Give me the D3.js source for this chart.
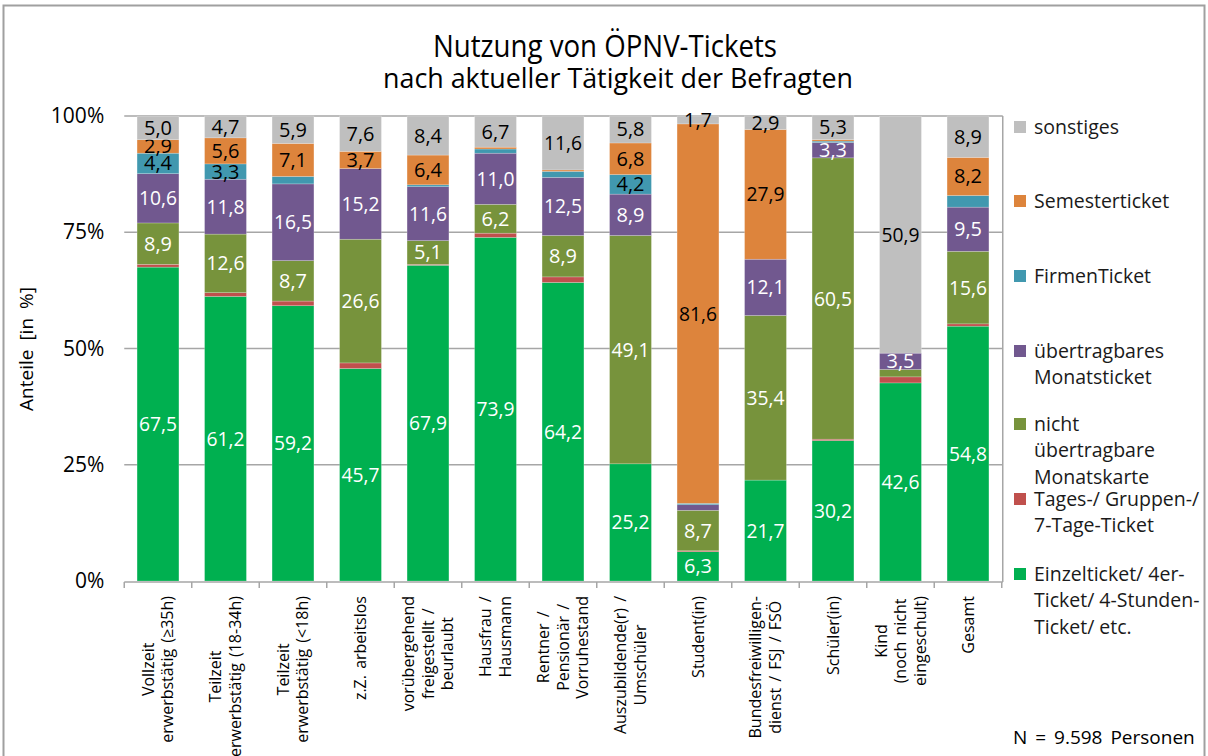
<!doctype html>
<html lang="de">
<head>
<meta charset="utf-8">
<script src="https://cdn.jsdelivr.net/npm/d3@7"></script>
<style>
  body { margin: 0; background: #fff; }
  svg { font-family: "Open Sans", sans-serif; }
</style>
</head>
<body>
<div id="chart"></div>
<script>
// Kategorien (Tätigkeit), zeilenweise Beschriftung
const categories = [
  ["Vollzeit", "erwerbstätig (≥35h)"],
  ["Teilzeit", "erwerbstätig (18-34h)"],
  ["Teilzeit", "erwerbstätig (<18h)"],
  ["z.Z. arbeitslos"],
  ["vorübergehend", "freigestellt /", "beurlaubt"],
  ["Hausfrau /", "Hausmann"],
  ["Rentner /", "Pensionär /", "Vorruhestand"],
  ["Auszubildende(r) /", "Umschüler"],
  ["Student(in)"],
  ["Bundesfreiwilligen-", "dienst / FSJ / FSÖ"],
  ["Schüler(in)"],
  ["Kind", "(noch nicht", "eingeschult)"],
  ["Gesamt"]
];

// Serien von unten nach oben
const einzelticket   = [67.5, 61.2, 59.2, 45.7, 67.9, 73.9, 64.2, 25.2,  6.3, 21.7, 30.2, 42.6, 54.8];
const tagesticket    = [ 0.6,  0.8,  1.0,  1.2,  0.2,  0.9,  1.2,  0.0,  0.2,  0.0,  0.3,  1.3,  0.5];
const nichtUebertr   = [ 8.9, 12.6,  8.7, 26.6,  5.1,  6.2,  8.9, 49.1,  8.7, 35.4, 60.5,  1.6, 15.6];
const uebertragbar   = [10.6, 11.8, 16.5, 15.2, 11.6, 11.0, 12.5,  8.9,  1.2, 12.1,  3.3,  3.5,  9.5];
const firmenticket   = [ 4.4,  3.3,  1.6,  0.0,  0.4,  0.9,  1.3,  4.2,  0.3,  0.0,  0.3,  0.0,  2.5];
const semesterticket = [ 2.9,  5.6,  7.1,  3.7,  6.4,  0.4,  0.3,  6.8, 81.6, 27.9,  0.3,  0.0,  8.2];
const sonstiges      = [ 5.0,  4.7,  5.9,  7.6,  8.4,  6.7, 11.6,  5.8,  1.7,  2.9,  5.3, 50.9,  8.9];

const seriesNames = [
  ["Einzelticket/ 4er-", "Ticket/ 4-Stunden-", "Ticket/ etc."],
  ["Tages-/ Gruppen-/", "7-Tage-Ticket"],
  ["nicht", "übertragbare", "Monatskarte"],
  ["übertragbares", "Monatsticket"],
  ["FirmenTicket"],
  ["Semesterticket"],
  ["sonstiges"]
];
const seriesValues = [einzelticket, tagesticket, nichtUebertr, uebertragbar, firmenticket, semesterticket, sonstiges];
const colors = ["#00b050", "#c0504d", "#77933c", "#71588f", "#4198af", "#dd843c", "#bfbfbf"];
const labelColors = ["#fff", "#fff", "#fff", "#fff", "#000", "#000", "#000"];
const minLabel = [2.8, 2.8, 2.8, 2.8, 2.8, 2.8, 1.0];

const yTicks = [0, 25, 50, 75, 100];

const W = 1208, H = 756;
const plot = {left: 124.25, right: 1001.75, top: 116, bottom: 581};

const svg = d3.select("#chart").append("svg")
    .attr("width", W).attr("height", H);

// Rahmen
svg.append("rect")
    .attr("x", 3.5).attr("y", 5.5).attr("width", 1201).attr("height", 770)
    .attr("fill", "none").attr("stroke", "#a0a0a0").attr("stroke-width", 2);

const x = d3.scaleBand()
    .domain(d3.range(categories.length))
    .range([plot.left, plot.right])
    .paddingInner(0.38).paddingOuter(0.19);

const y = d3.scaleLinear().domain([0, 100]).range([plot.bottom, plot.top]);

// Gitterlinien
svg.append("g").selectAll("line")
    .data(yTicks.slice(1))
    .join("line")
    .attr("x1", plot.left).attr("x2", plot.right + 1)
    .attr("y1", d => y(d)).attr("y2", d => y(d))
    .attr("stroke", "#a6a6a6").attr("stroke-width", 1.5);

// y-Achse
const yAxis = svg.append("g")
    .attr("transform", `translate(${plot.left},0)`)
    .call(d3.axisLeft(y).tickValues(yTicks).tickSize(0).tickPadding(20).tickFormat(d => d + "%"));
yAxis.select(".domain").remove();
yAxis.selectAll("text")
    .attr("font-size", 21).attr("fill", "#000").attr("font-family", "Open Sans, sans-serif");

svg.append("text")
    .attr("transform", `translate(33,349) rotate(-90)`)
    .attr("text-anchor", "middle")
    .attr("font-size", 19)
    .attr("word-spacing", 4)
    .text("Anteile [in %]");

// Stapel
const rows = categories.map((c, i) => {
  const r = {i};
  seriesValues.forEach((s, k) => r[k] = s[i]);
  return r;
});
const stacked = d3.stack().keys(d3.range(seriesValues.length))(rows);

const layers = svg.append("g").selectAll("g")
    .data(stacked)
    .join("g")
    .attr("fill", (d, k) => colors[k]);

layers.selectAll("rect")
    .data(d => d)
    .join("rect")
    .attr("x", d => x(d.data.i))
    .attr("width", x.bandwidth())
    .attr("y", d => y(d[1]))
    .attr("height", d => y(d[0]) - y(d[1]))
    .attr("stroke", "#ffffff").attr("stroke-opacity", 0.35).attr("stroke-width", 0.6);

// Werte
const fmt = v => v.toFixed(1).replace(".", ",");
layers.each(function(layer, k) {
  d3.select(this).selectAll("text")
      .data(layer.filter(d => d[1] - d[0] >= minLabel[k]))
      .join("text")
      .attr("x", d => x(d.data.i) + x.bandwidth() / 2)
      .attr("y", d => y((d[0] + d[1]) / 2))
      .attr("dy", "0.35em")
      .attr("text-anchor", "middle")
      .attr("font-size", 20)
      .attr("textLength", d => (d[1] - d[0]) >= 10 ? 38 : 28)
      .attr("lengthAdjust", "spacingAndGlyphs")
      .attr("fill", labelColors[k])
      .text(d => fmt(d[1] - d[0]));
});

// x-Achse
svg.append("line")
    .attr("x1", plot.left).attr("x2", plot.right + 1)
    .attr("y1", plot.bottom + 1).attr("y2", plot.bottom + 1)
    .attr("stroke", "#a6a6a6").attr("stroke-width", 1.5);
svg.append("line")
    .attr("x1", plot.right + 1).attr("x2", plot.right + 1)
    .attr("y1", plot.top).attr("y2", plot.bottom + 1)
    .attr("stroke", "#a6a6a6").attr("stroke-width", 1.5);

const step = x.step();
svg.append("g").selectAll("line")
    .data(d3.range(categories.length + 1))
    .join("line")
    .attr("x1", d => plot.left + d * step).attr("x2", d => plot.left + d * step)
    .attr("y1", plot.bottom + 1).attr("y2", plot.bottom + 7)
    .attr("stroke", "#a6a6a6").attr("stroke-width", 1.5);

const catLabels = svg.append("g").selectAll("g")
    .data(categories)
    .join("g")
    .attr("transform", (d, i) => `translate(${x(i) + x.bandwidth() / 2},596) rotate(-90)`);

catLabels.each(function(lines) {
  const g = d3.select(this);
  const n = lines.length;
  const t = g.selectAll("text")
      .data(lines)
      .join("text")
      .attr("y", (d, j) => (j - (n - 1) / 2) * 19.5)
      .attr("dy", "0.35em")
      .attr("text-anchor", "middle")
      .attr("font-size", 16)
      .attr("word-spacing", 2)
      .text(d => d);
  const w = d3.max(t.nodes(), nd => nd.getComputedTextLength());
  t.attr("x", -w / 2);
});

// Legende (von oben: sonstiges ... Einzelticket)
const legendY = [127, 201, 276, 351, 424, 499, 574];
const legend = svg.append("g").selectAll("g")
    .data(d3.range(seriesNames.length).reverse())
    .join("g")
    .attr("transform", (k, j) => `translate(1014,${legendY[j]})`);

legend.append("rect")
    .attr("x", 0).attr("y", -6).attr("width", 12).attr("height", 12)
    .attr("fill", k => colors[k]);

legend.each(function(k) {
  d3.select(this).selectAll("text")
      .data(seriesNames[k])
      .join("text")
      .attr("x", 20)
      .attr("y", (d, j) => j * 26.5)
      .attr("dy", "0.35em")
      .attr("font-size", 19.5)
      .attr("fill", "#1a1a1a")
      .text(d => d);
});

// Titel
svg.append("text")
    .attr("x", 605).attr("y", 57)
    .attr("text-anchor", "middle")
    .attr("font-size", 31)
    .attr("textLength", 344).attr("lengthAdjust", "spacingAndGlyphs")
    .text("Nutzung von ÖPNV-Tickets");
svg.append("text")
    .attr("x", 618).attr("y", 88)
    .attr("text-anchor", "middle")
    .attr("font-size", 27)
    .attr("textLength", 470).attr("lengthAdjust", "spacingAndGlyphs")
    .text("nach aktueller Tätigkeit der Befragten");

svg.append("text")
    .attr("x", 1013).attr("y", 744)
    .attr("font-size", 19)
    .attr("word-spacing", 3)
    .text("N = 9.598 Personen");
</script>
</body>
</html>
